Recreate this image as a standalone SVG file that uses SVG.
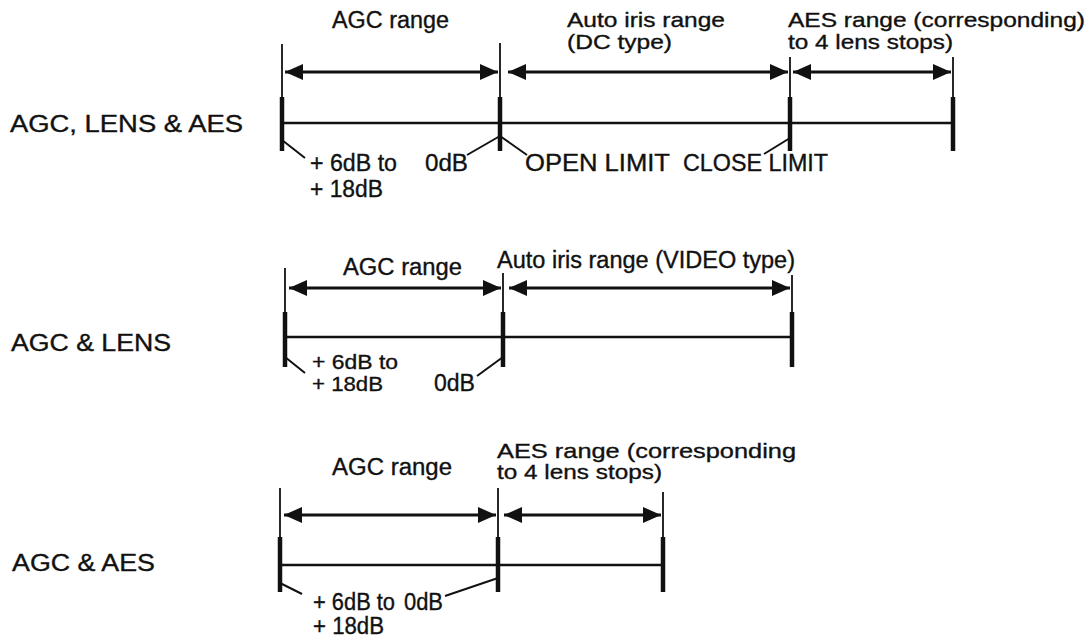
<svg xmlns="http://www.w3.org/2000/svg" width="1091" height="640" viewBox="0 0 1091 640">
<style>
text{font-family:"Liberation Sans",Arial,sans-serif;font-size:23px;fill:#111;stroke:#111;stroke-width:0.35}
text.two{font-size:21px}
.thin{stroke:#111;stroke-width:1.8;fill:none}
.thick{stroke:#111;stroke-width:4.5;fill:none}
.base{stroke:#111;stroke-width:2.3;fill:none}
.arr{stroke:#111;stroke-width:2.8;fill:none;marker-start:url(#ah);marker-end:url(#ah)}
.lead{stroke:#111;stroke-width:2;fill:none}
</style>
<defs>
<marker id="ah" viewBox="0 0 18 16" refX="18" refY="8" markerWidth="18" markerHeight="16" markerUnits="userSpaceOnUse" orient="auto-start-reverse">
<path d="M0,0 L18,8 L0,16 Z" fill="#111"/>
</marker>
</defs>
<rect width="1091" height="640" fill="#fff"/>

<g id="row1">
<text x="10" y="132" textLength="233" lengthAdjust="spacingAndGlyphs">AGC, LENS &amp; AES</text>
<text x="332" y="28" textLength="117" lengthAdjust="spacingAndGlyphs">AGC range</text>
<text class="two" x="567" y="27" textLength="158" lengthAdjust="spacingAndGlyphs">Auto iris range</text>
<text class="two" x="567" y="49" textLength="105" lengthAdjust="spacingAndGlyphs">(DC type)</text>
<text class="two" x="788" y="27" textLength="297" lengthAdjust="spacingAndGlyphs">AES range (corresponding)</text>
<text class="two" x="788" y="49" textLength="165" lengthAdjust="spacingAndGlyphs">to 4 lens stops)</text>
<text x="310" y="171" textLength="87" lengthAdjust="spacingAndGlyphs">+ 6dB to</text>
<text x="310" y="197" textLength="73" lengthAdjust="spacingAndGlyphs">+ 18dB</text>
<text x="425" y="171" textLength="43" lengthAdjust="spacingAndGlyphs">0dB</text>
<text x="525" y="171" textLength="145" lengthAdjust="spacingAndGlyphs">OPEN LIMIT</text>
<text x="683" y="171" textLength="145" lengthAdjust="spacingAndGlyphs">CLOSE LIMIT</text>
<line class="thin" x1="282" y1="44" x2="282" y2="97"/>
<line class="thick" x1="282" y1="97" x2="282" y2="151"/>
<line class="thin" x1="500" y1="43" x2="500" y2="97"/>
<line class="thick" x1="500" y1="97" x2="500" y2="151"/>
<line class="thin" x1="790" y1="57" x2="790" y2="97"/>
<line class="thick" x1="790" y1="97" x2="790" y2="151"/>
<line class="thin" x1="953" y1="57" x2="953" y2="97"/>
<line class="thick" x1="953" y1="97" x2="953" y2="151"/>
</g>

<g id="row2">
<text x="11" y="351" textLength="160" lengthAdjust="spacingAndGlyphs">AGC &amp; LENS</text>
<text x="343" y="275" textLength="119" lengthAdjust="spacingAndGlyphs">AGC range</text>
<text x="497" y="268" textLength="298" lengthAdjust="spacingAndGlyphs">Auto iris range (VIDEO type)</text>
<text class="two" x="312" y="369" textLength="86" lengthAdjust="spacingAndGlyphs">+ 6dB to</text>
<text class="two" x="312" y="391" textLength="71" lengthAdjust="spacingAndGlyphs">+ 18dB</text>
<text x="434" y="391" textLength="41" lengthAdjust="spacingAndGlyphs">0dB</text>
<line class="thin" x1="285" y1="268" x2="285" y2="312"/>
<line class="thick" x1="285" y1="312" x2="285" y2="367"/>
<line class="thin" x1="503" y1="273" x2="503" y2="312"/>
<line class="thick" x1="503" y1="312" x2="503" y2="367"/>
<line class="thin" x1="792" y1="275" x2="792" y2="312"/>
<line class="thick" x1="792" y1="312" x2="792" y2="367"/>
</g>

<g id="row3">
<text x="12" y="571" textLength="143" lengthAdjust="spacingAndGlyphs">AGC &amp; AES</text>
<text x="332" y="475" textLength="120" lengthAdjust="spacingAndGlyphs">AGC range</text>
<text class="two" x="497" y="458" textLength="299" lengthAdjust="spacingAndGlyphs">AES range (corresponding</text>
<text class="two" x="497" y="479" textLength="165" lengthAdjust="spacingAndGlyphs">to 4 lens stops)</text>
<text x="313" y="610" textLength="82" lengthAdjust="spacingAndGlyphs">+ 6dB to</text>
<text x="313" y="634" textLength="71" lengthAdjust="spacingAndGlyphs">+ 18dB</text>
<text x="404" y="610" textLength="39" lengthAdjust="spacingAndGlyphs">0dB</text>
<line class="thin" x1="280" y1="488" x2="280" y2="537"/>
<line class="thick" x1="280" y1="537" x2="280" y2="592"/>
<line class="thin" x1="498" y1="488" x2="498" y2="537"/>
<line class="thick" x1="498" y1="537" x2="498" y2="592"/>
<line class="thin" x1="663" y1="492" x2="663" y2="537"/>
<line class="thick" x1="663" y1="537" x2="663" y2="592"/>
</g>

<g id="connectors">
<line class="base" x1="282" y1="123" x2="953" y2="123"/>
<line class="arr" x1="285" y1="72" x2="498" y2="72"/>
<line class="arr" x1="508" y1="72" x2="788" y2="72"/>
<line class="arr" x1="793" y1="72" x2="951" y2="72"/>
<line class="lead" x1="282" y1="140" x2="305" y2="158"/>
<line class="lead" x1="467" y1="155" x2="500" y2="136"/>
<line class="lead" x1="500" y1="136" x2="527" y2="155"/>
<line class="lead" x1="764" y1="154" x2="790" y2="138"/>

<line class="base" x1="285" y1="337" x2="792" y2="337"/>
<line class="arr" x1="289" y1="288" x2="501" y2="288"/>
<line class="arr" x1="509" y1="288" x2="790" y2="288"/>
<line class="lead" x1="285" y1="357" x2="305" y2="373"/>
<line class="lead" x1="477" y1="376" x2="503" y2="357"/>

<line class="base" x1="280" y1="565" x2="663" y2="565"/>
<line class="arr" x1="284" y1="515" x2="496" y2="515"/>
<line class="arr" x1="504" y1="515" x2="661" y2="515"/>
<line class="lead" x1="280" y1="583" x2="302" y2="594"/>
<line class="lead" x1="445" y1="596" x2="498" y2="578"/>
</g>
</svg>
